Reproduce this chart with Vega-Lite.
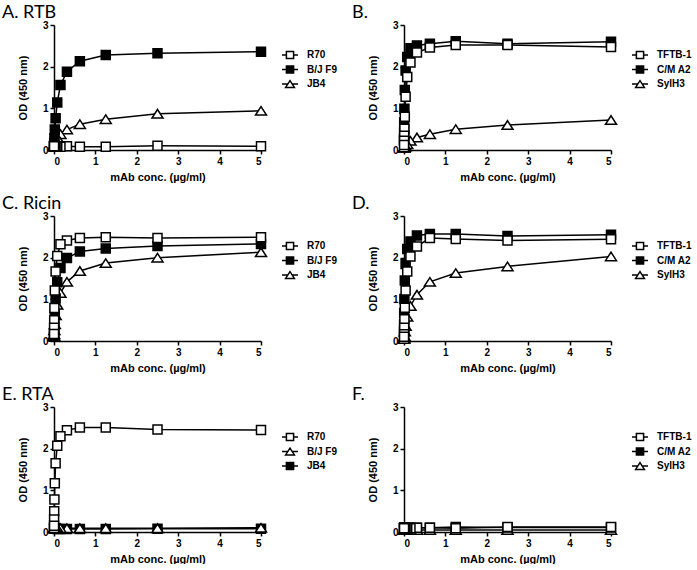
{
  "$schema": "https://vega.github.io/schema/vega-lite/v6.json",
  "padding": {"left": 2, "top": 4, "right": 0, "bottom": 0},
  "background": "white",
  "datasets": {
    "A": [
      {"series": "JB4", "conc": 5, "od": 0.94}, {"series": "JB4", "conc": 2.5, "od": 0.87}, {"series": "JB4", "conc": 1.25, "od": 0.74}, {"series": "JB4", "conc": 0.625, "od": 0.62}, {"series": "JB4", "conc": 0.3125, "od": 0.49}, {"series": "JB4", "conc": 0.156, "od": 0.38}, {"series": "JB4", "conc": 0.078, "od": 0.30}, {"series": "JB4", "conc": 0.039, "od": 0.22}, {"series": "JB4", "conc": 0.0195, "od": 0.16}, {"series": "JB4", "conc": 0.0098, "od": 0.12}, {"series": "JB4", "conc": 0.0049, "od": 0.10}, {"series": "JB4", "conc": 0.0024, "od": 0.09}, {"series": "JB4", "conc": 0.0012, "od": 0.08},
      {"series": "B/J F9", "conc": 5, "od": 2.36}, {"series": "B/J F9", "conc": 2.5, "od": 2.32}, {"series": "B/J F9", "conc": 1.25, "od": 2.28}, {"series": "B/J F9", "conc": 0.625, "od": 2.13}, {"series": "B/J F9", "conc": 0.3125, "od": 1.88}, {"series": "B/J F9", "conc": 0.156, "od": 1.56}, {"series": "B/J F9", "conc": 0.078, "od": 1.14}, {"series": "B/J F9", "conc": 0.039, "od": 0.76}, {"series": "B/J F9", "conc": 0.0195, "od": 0.49}, {"series": "B/J F9", "conc": 0.0098, "od": 0.28}, {"series": "B/J F9", "conc": 0.0049, "od": 0.17}, {"series": "B/J F9", "conc": 0.0024, "od": 0.11}, {"series": "B/J F9", "conc": 0.0012, "od": 0.09},
      {"series": "R70", "conc": 5, "od": 0.09}, {"series": "R70", "conc": 2.5, "od": 0.10}, {"series": "R70", "conc": 1.25, "od": 0.08}, {"series": "R70", "conc": 0.625, "od": 0.08}, {"series": "R70", "conc": 0.3125, "od": 0.09}, {"series": "R70", "conc": 0.156, "od": 0.08}, {"series": "R70", "conc": 0.078, "od": 0.09}, {"series": "R70", "conc": 0.039, "od": 0.09}, {"series": "R70", "conc": 0.0195, "od": 0.10}, {"series": "R70", "conc": 0.0098, "od": 0.10}, {"series": "R70", "conc": 0.0049, "od": 0.09}, {"series": "R70", "conc": 0.0024, "od": 0.09}, {"series": "R70", "conc": 0.0012, "od": 0.09}
    ],
    "B": [
      {"series": "SylH3", "conc": 5, "od": 0.72}, {"series": "SylH3", "conc": 2.5, "od": 0.60}, {"series": "SylH3", "conc": 1.25, "od": 0.50}, {"series": "SylH3", "conc": 0.625, "od": 0.38}, {"series": "SylH3", "conc": 0.3125, "od": 0.30}, {"series": "SylH3", "conc": 0.156, "od": 0.22}, {"series": "SylH3", "conc": 0.078, "od": 0.14}, {"series": "SylH3", "conc": 0.039, "od": 0.09}, {"series": "SylH3", "conc": 0.0195, "od": 0.07}, {"series": "SylH3", "conc": 0.0098, "od": 0.06}, {"series": "SylH3", "conc": 0.0049, "od": 0.06}, {"series": "SylH3", "conc": 0.0024, "od": 0.06}, {"series": "SylH3", "conc": 0.0012, "od": 0.06},
      {"series": "C/M A2", "conc": 5, "od": 2.60}, {"series": "C/M A2", "conc": 2.5, "od": 2.55}, {"series": "C/M A2", "conc": 1.25, "od": 2.61}, {"series": "C/M A2", "conc": 0.625, "od": 2.55}, {"series": "C/M A2", "conc": 0.3125, "od": 2.51}, {"series": "C/M A2", "conc": 0.156, "od": 2.44}, {"series": "C/M A2", "conc": 0.078, "od": 2.23}, {"series": "C/M A2", "conc": 0.039, "od": 1.91}, {"series": "C/M A2", "conc": 0.0195, "od": 1.44}, {"series": "C/M A2", "conc": 0.0098, "od": 0.99}, {"series": "C/M A2", "conc": 0.0049, "od": 0.66}, {"series": "C/M A2", "conc": 0.0024, "od": 0.42}, {"series": "C/M A2", "conc": 0.0012, "od": 0.25},
      {"series": "TFTB-1", "conc": 5, "od": 2.47}, {"series": "TFTB-1", "conc": 2.5, "od": 2.52}, {"series": "TFTB-1", "conc": 1.25, "od": 2.52}, {"series": "TFTB-1", "conc": 0.625, "od": 2.46}, {"series": "TFTB-1", "conc": 0.3125, "od": 2.34}, {"series": "TFTB-1", "conc": 0.156, "od": 2.10}, {"series": "TFTB-1", "conc": 0.078, "od": 1.75}, {"series": "TFTB-1", "conc": 0.039, "od": 1.28}, {"series": "TFTB-1", "conc": 0.0195, "od": 0.80}, {"series": "TFTB-1", "conc": 0.0098, "od": 0.51}, {"series": "TFTB-1", "conc": 0.0049, "od": 0.34}, {"series": "TFTB-1", "conc": 0.0024, "od": 0.22}, {"series": "TFTB-1", "conc": 0.0012, "od": 0.12}
    ],
    "C": [
      {"series": "JB4", "conc": 5, "od": 2.13}, {"series": "JB4", "conc": 2.5, "od": 2.00}, {"series": "JB4", "conc": 1.25, "od": 1.87}, {"series": "JB4", "conc": 0.625, "od": 1.68}, {"series": "JB4", "conc": 0.3125, "od": 1.42}, {"series": "JB4", "conc": 0.156, "od": 1.15}, {"series": "JB4", "conc": 0.078, "od": 0.87}, {"series": "JB4", "conc": 0.039, "od": 0.62}, {"series": "JB4", "conc": 0.0195, "od": 0.40}, {"series": "JB4", "conc": 0.0098, "od": 0.26}, {"series": "JB4", "conc": 0.0049, "od": 0.16}, {"series": "JB4", "conc": 0.0024, "od": 0.12}, {"series": "JB4", "conc": 0.0012, "od": 0.10},
      {"series": "B/J F9", "conc": 5, "od": 2.33}, {"series": "B/J F9", "conc": 2.5, "od": 2.28}, {"series": "B/J F9", "conc": 1.25, "od": 2.22}, {"series": "B/J F9", "conc": 0.625, "od": 2.15}, {"series": "B/J F9", "conc": 0.3125, "od": 1.99}, {"series": "B/J F9", "conc": 0.156, "od": 1.75}, {"series": "B/J F9", "conc": 0.078, "od": 1.41}, {"series": "B/J F9", "conc": 0.039, "od": 1.02}, {"series": "B/J F9", "conc": 0.0195, "od": 0.64}, {"series": "B/J F9", "conc": 0.0098, "od": 0.40}, {"series": "B/J F9", "conc": 0.0049, "od": 0.24}, {"series": "B/J F9", "conc": 0.0024, "od": 0.14}, {"series": "B/J F9", "conc": 0.0012, "od": 0.10},
      {"series": "R70", "conc": 5, "od": 2.49}, {"series": "R70", "conc": 2.5, "od": 2.47}, {"series": "R70", "conc": 1.25, "od": 2.49}, {"series": "R70", "conc": 0.625, "od": 2.47}, {"series": "R70", "conc": 0.3125, "od": 2.41}, {"series": "R70", "conc": 0.156, "od": 2.32}, {"series": "R70", "conc": 0.078, "od": 2.04}, {"series": "R70", "conc": 0.039, "od": 1.67}, {"series": "R70", "conc": 0.0195, "od": 1.21}, {"series": "R70", "conc": 0.0098, "od": 0.79}, {"series": "R70", "conc": 0.0049, "od": 0.50}, {"series": "R70", "conc": 0.0024, "od": 0.32}, {"series": "R70", "conc": 0.0012, "od": 0.17}
    ],
    "D": [
      {"series": "SylH3", "conc": 5, "od": 2.03}, {"series": "SylH3", "conc": 2.5, "od": 1.79}, {"series": "SylH3", "conc": 1.25, "od": 1.63}, {"series": "SylH3", "conc": 0.625, "od": 1.42}, {"series": "SylH3", "conc": 0.3125, "od": 1.11}, {"series": "SylH3", "conc": 0.156, "od": 0.84}, {"series": "SylH3", "conc": 0.078, "od": 0.58}, {"series": "SylH3", "conc": 0.039, "od": 0.36}, {"series": "SylH3", "conc": 0.0195, "od": 0.23}, {"series": "SylH3", "conc": 0.0098, "od": 0.12}, {"series": "SylH3", "conc": 0.0049, "od": 0.08}, {"series": "SylH3", "conc": 0.0024, "od": 0.06}, {"series": "SylH3", "conc": 0.0012, "od": 0.05},
      {"series": "C/M A2", "conc": 5, "od": 2.55}, {"series": "C/M A2", "conc": 2.5, "od": 2.52}, {"series": "C/M A2", "conc": 1.25, "od": 2.57}, {"series": "C/M A2", "conc": 0.625, "od": 2.57}, {"series": "C/M A2", "conc": 0.3125, "od": 2.53}, {"series": "C/M A2", "conc": 0.156, "od": 2.39}, {"series": "C/M A2", "conc": 0.078, "od": 2.21}, {"series": "C/M A2", "conc": 0.039, "od": 1.85}, {"series": "C/M A2", "conc": 0.0195, "od": 1.45}, {"series": "C/M A2", "conc": 0.0098, "od": 1.01}, {"series": "C/M A2", "conc": 0.0049, "od": 0.67}, {"series": "C/M A2", "conc": 0.0024, "od": 0.40}, {"series": "C/M A2", "conc": 0.0012, "od": 0.22},
      {"series": "TFTB-1", "conc": 5, "od": 2.44}, {"series": "TFTB-1", "conc": 2.5, "od": 2.41}, {"series": "TFTB-1", "conc": 1.25, "od": 2.45}, {"series": "TFTB-1", "conc": 0.625, "od": 2.47}, {"series": "TFTB-1", "conc": 0.3125, "od": 2.27}, {"series": "TFTB-1", "conc": 0.156, "od": 2.03}, {"series": "TFTB-1", "conc": 0.078, "od": 1.67}, {"series": "TFTB-1", "conc": 0.039, "od": 1.21}, {"series": "TFTB-1", "conc": 0.0195, "od": 0.80}, {"series": "TFTB-1", "conc": 0.0098, "od": 0.52}, {"series": "TFTB-1", "conc": 0.0049, "od": 0.32}, {"series": "TFTB-1", "conc": 0.0024, "od": 0.16}, {"series": "TFTB-1", "conc": 0.0012, "od": 0.10}
    ],
    "E": [
      {"series": "JB4", "conc": 5, "od": 0.08}, {"series": "JB4", "conc": 2.5, "od": 0.08}, {"series": "JB4", "conc": 1.25, "od": 0.07}, {"series": "JB4", "conc": 0.625, "od": 0.07}, {"series": "JB4", "conc": 0.3125, "od": 0.07}, {"series": "JB4", "conc": 0.156, "od": 0.07}, {"series": "JB4", "conc": 0.078, "od": 0.07}, {"series": "JB4", "conc": 0.039, "od": 0.08}, {"series": "JB4", "conc": 0.0195, "od": 0.08}, {"series": "JB4", "conc": 0.0098, "od": 0.08}, {"series": "JB4", "conc": 0.0049, "od": 0.08}, {"series": "JB4", "conc": 0.0024, "od": 0.08}, {"series": "JB4", "conc": 0.0012, "od": 0.08},
      {"series": "B/J F9", "conc": 5, "od": 0.10}, {"series": "B/J F9", "conc": 2.5, "od": 0.09}, {"series": "B/J F9", "conc": 1.25, "od": 0.09}, {"series": "B/J F9", "conc": 0.625, "od": 0.09}, {"series": "B/J F9", "conc": 0.3125, "od": 0.09}, {"series": "B/J F9", "conc": 0.156, "od": 0.09}, {"series": "B/J F9", "conc": 0.078, "od": 0.10}, {"series": "B/J F9", "conc": 0.039, "od": 0.10}, {"series": "B/J F9", "conc": 0.0195, "od": 0.10}, {"series": "B/J F9", "conc": 0.0098, "od": 0.10}, {"series": "B/J F9", "conc": 0.0049, "od": 0.09}, {"series": "B/J F9", "conc": 0.0024, "od": 0.09}, {"series": "B/J F9", "conc": 0.0012, "od": 0.09},
      {"series": "R70", "conc": 5, "od": 2.45}, {"series": "R70", "conc": 2.5, "od": 2.46}, {"series": "R70", "conc": 1.25, "od": 2.51}, {"series": "R70", "conc": 0.625, "od": 2.51}, {"series": "R70", "conc": 0.3125, "od": 2.44}, {"series": "R70", "conc": 0.156, "od": 2.30}, {"series": "R70", "conc": 0.078, "od": 2.07}, {"series": "R70", "conc": 0.039, "od": 1.65}, {"series": "R70", "conc": 0.0195, "od": 1.17}, {"series": "R70", "conc": 0.0098, "od": 0.78}, {"series": "R70", "conc": 0.0049, "od": 0.50}, {"series": "R70", "conc": 0.0024, "od": 0.30}, {"series": "R70", "conc": 0.0012, "od": 0.15}
    ],
    "F": [
      {"series": "SylH3", "conc": 5, "od": 0.05}, {"series": "SylH3", "conc": 2.5, "od": 0.05}, {"series": "SylH3", "conc": 1.25, "od": 0.05}, {"series": "SylH3", "conc": 0.625, "od": 0.05}, {"series": "SylH3", "conc": 0.3125, "od": 0.05}, {"series": "SylH3", "conc": 0.156, "od": 0.05}, {"series": "SylH3", "conc": 0.078, "od": 0.05}, {"series": "SylH3", "conc": 0.039, "od": 0.05}, {"series": "SylH3", "conc": 0.0195, "od": 0.05}, {"series": "SylH3", "conc": 0.0098, "od": 0.05}, {"series": "SylH3", "conc": 0.0049, "od": 0.05}, {"series": "SylH3", "conc": 0.0024, "od": 0.05}, {"series": "SylH3", "conc": 0.0012, "od": 0.05},
      {"series": "C/M A2", "conc": 5, "od": 0.11}, {"series": "C/M A2", "conc": 2.5, "od": 0.11}, {"series": "C/M A2", "conc": 1.25, "od": 0.12}, {"series": "C/M A2", "conc": 0.625, "od": 0.10}, {"series": "C/M A2", "conc": 0.3125, "od": 0.10}, {"series": "C/M A2", "conc": 0.156, "od": 0.10}, {"series": "C/M A2", "conc": 0.078, "od": 0.10}, {"series": "C/M A2", "conc": 0.039, "od": 0.10}, {"series": "C/M A2", "conc": 0.0195, "od": 0.10}, {"series": "C/M A2", "conc": 0.0098, "od": 0.10}, {"series": "C/M A2", "conc": 0.0049, "od": 0.10}, {"series": "C/M A2", "conc": 0.0024, "od": 0.10}, {"series": "C/M A2", "conc": 0.0012, "od": 0.10},
      {"series": "TFTB-1", "conc": 5, "od": 0.12}, {"series": "TFTB-1", "conc": 2.5, "od": 0.12}, {"series": "TFTB-1", "conc": 1.25, "od": 0.09}, {"series": "TFTB-1", "conc": 0.625, "od": 0.10}, {"series": "TFTB-1", "conc": 0.3125, "od": 0.10}, {"series": "TFTB-1", "conc": 0.156, "od": 0.09}, {"series": "TFTB-1", "conc": 0.078, "od": 0.10}, {"series": "TFTB-1", "conc": 0.039, "od": 0.09}, {"series": "TFTB-1", "conc": 0.0195, "od": 0.09}, {"series": "TFTB-1", "conc": 0.0098, "od": 0.09}, {"series": "TFTB-1", "conc": 0.0049, "od": 0.09}, {"series": "TFTB-1", "conc": 0.0024, "od": 0.09}, {"series": "TFTB-1", "conc": 0.0012, "od": 0.09}
    ]
  },
  "columns": 2,
  "spacing": {"row": 13, "column": 14},
  "concat": [
    {
      "title": "A. RTB",
      "width": 207, "height": 125,
      "data": {"name": "A"},
      "resolve": {"scale": {"shape": "independent", "fill": "independent", "stroke": "independent"}},
      "layer": [
        {"mark": {"type": "line", "color": "black", "strokeWidth": 1.5},
         "encoding": {"x": {"field": "conc", "type": "quantitative", "scale": {"domain": [0, 5]}, "axis": {"values": [0, 1, 2, 3, 4, 5], "title": "mAb conc. (µg/ml)"}},
                      "y": {"field": "od", "type": "quantitative", "scale": {"domain": [0, 3]}, "axis": {"values": [0, 1, 2, 3], "title": "OD (450 nm)"}},
                      "detail": {"field": "series"}}},
        {"mark": {"type": "point", "filled": true, "opacity": 1, "stroke": "black", "strokeWidth": 1.5, "size": 100},
         "encoding": {"x": {"field": "conc", "type": "quantitative"}, "y": {"field": "od", "type": "quantitative"},
                      "shape": {"field": "series", "scale": {"domain": ["R70", "B/J F9", "JB4"], "range": ["M-0.9,-0.9H0.9V0.9H-0.9Z", "M-0.9,-0.9H0.9V0.9H-0.9Z", "M0,-0.85L1.1,0.85H-1.1Z"]}, "legend": null},
                      "fill": {"field": "series", "scale": {"domain": ["R70", "B/J F9", "JB4"], "range": ["white", "black", "white"]}, "legend": null}}},
        {"transform": [{"filter": "datum.conc < 0"}],
         "mark": {"type": "point", "filled": false, "opacity": 1, "strokeWidth": 1.5, "size": 64},
         "encoding": {"x": {"field": "conc", "type": "quantitative"}, "y": {"field": "od", "type": "quantitative"},
                      "stroke": {"field": "series", "scale": {"domain": ["R70", "B/J F9", "JB4"], "range": ["black", "black", "black"]}, "legend": {"title": null, "orient": "none", "legendX": 231, "legendY": 25}},
                      "shape": {"field": "series", "scale": {"domain": ["R70", "B/J F9", "JB4"], "range": ["M-2,0H-0.9M0.9,0H2M-0.9,-0.9H0.9V0.9H-0.9Z", "M-2,0H-0.9M0.9,0H2M-0.9,-0.9H0.9V0.9H-0.9Z", "M-2,0H-0.55M0.55,0H2M0,-0.85L1.1,0.85H-1.1Z"]}, "legend": {"title": null, "orient": "none", "legendX": 231, "legendY": 25}},
                      "fill": {"field": "series", "scale": {"domain": ["R70", "B/J F9", "JB4"], "range": ["white", "black", "white"]}, "legend": {"title": null, "orient": "none", "legendX": 231, "legendY": 25}}}}
      ]
    },
    {
      "title": "B.",
      "width": 207, "height": 125,
      "data": {"name": "B"},
      "resolve": {"scale": {"shape": "independent", "fill": "independent", "stroke": "independent"}},
      "layer": [
        {"mark": {"type": "line", "color": "black", "strokeWidth": 1.5},
         "encoding": {"x": {"field": "conc", "type": "quantitative", "scale": {"domain": [0, 5]}, "axis": {"values": [0, 1, 2, 3, 4, 5], "title": "mAb conc. (µg/ml)"}},
                      "y": {"field": "od", "type": "quantitative", "scale": {"domain": [0, 3]}, "axis": {"values": [0, 1, 2, 3], "title": "OD (450 nm)"}},
                      "detail": {"field": "series"}}},
        {"mark": {"type": "point", "filled": true, "opacity": 1, "stroke": "black", "strokeWidth": 1.5, "size": 100},
         "encoding": {"x": {"field": "conc", "type": "quantitative"}, "y": {"field": "od", "type": "quantitative"},
                      "shape": {"field": "series", "scale": {"domain": ["TFTB-1", "C/M A2", "SylH3"], "range": ["M-0.9,-0.9H0.9V0.9H-0.9Z", "M-0.9,-0.9H0.9V0.9H-0.9Z", "M0,-0.85L1.1,0.85H-1.1Z"]}, "legend": null},
                      "fill": {"field": "series", "scale": {"domain": ["TFTB-1", "C/M A2", "SylH3"], "range": ["white", "black", "white"]}, "legend": null}}},
        {"transform": [{"filter": "datum.conc < 0"}],
         "mark": {"type": "point", "filled": false, "opacity": 1, "strokeWidth": 1.5, "size": 64},
         "encoding": {"x": {"field": "conc", "type": "quantitative"}, "y": {"field": "od", "type": "quantitative"},
                      "stroke": {"field": "series", "scale": {"domain": ["TFTB-1", "C/M A2", "SylH3"], "range": ["black", "black", "black"]}, "legend": {"title": null, "orient": "none", "legendX": 231, "legendY": 25}},
                      "shape": {"field": "series", "scale": {"domain": ["TFTB-1", "C/M A2", "SylH3"], "range": ["M-2,0H-0.9M0.9,0H2M-0.9,-0.9H0.9V0.9H-0.9Z", "M-2,0H-0.9M0.9,0H2M-0.9,-0.9H0.9V0.9H-0.9Z", "M-2,0H-0.55M0.55,0H2M0,-0.85L1.1,0.85H-1.1Z"]}, "legend": {"title": null, "orient": "none", "legendX": 231, "legendY": 25}},
                      "fill": {"field": "series", "scale": {"domain": ["TFTB-1", "C/M A2", "SylH3"], "range": ["white", "black", "white"]}, "legend": {"title": null, "orient": "none", "legendX": 231, "legendY": 25}}}}
      ]
    },
    {
      "title": "C. Ricin",
      "width": 207, "height": 125,
      "data": {"name": "C"},
      "resolve": {"scale": {"shape": "independent", "fill": "independent", "stroke": "independent"}},
      "layer": [
        {"mark": {"type": "line", "color": "black", "strokeWidth": 1.5},
         "encoding": {"x": {"field": "conc", "type": "quantitative", "scale": {"domain": [0, 5]}, "axis": {"values": [0, 1, 2, 3, 4, 5], "title": "mAb conc. (µg/ml)"}},
                      "y": {"field": "od", "type": "quantitative", "scale": {"domain": [0, 3]}, "axis": {"values": [0, 1, 2, 3], "title": "OD (450 nm)"}},
                      "detail": {"field": "series"}}},
        {"mark": {"type": "point", "filled": true, "opacity": 1, "stroke": "black", "strokeWidth": 1.5, "size": 100},
         "encoding": {"x": {"field": "conc", "type": "quantitative"}, "y": {"field": "od", "type": "quantitative"},
                      "shape": {"field": "series", "scale": {"domain": ["R70", "B/J F9", "JB4"], "range": ["M-0.9,-0.9H0.9V0.9H-0.9Z", "M-0.9,-0.9H0.9V0.9H-0.9Z", "M0,-0.85L1.1,0.85H-1.1Z"]}, "legend": null},
                      "fill": {"field": "series", "scale": {"domain": ["R70", "B/J F9", "JB4"], "range": ["white", "black", "white"]}, "legend": null}}},
        {"transform": [{"filter": "datum.conc < 0"}],
         "mark": {"type": "point", "filled": false, "opacity": 1, "strokeWidth": 1.5, "size": 64},
         "encoding": {"x": {"field": "conc", "type": "quantitative"}, "y": {"field": "od", "type": "quantitative"},
                      "stroke": {"field": "series", "scale": {"domain": ["R70", "B/J F9", "JB4"], "range": ["black", "black", "black"]}, "legend": {"title": null, "orient": "none", "legendX": 231, "legendY": 25}},
                      "shape": {"field": "series", "scale": {"domain": ["R70", "B/J F9", "JB4"], "range": ["M-2,0H-0.9M0.9,0H2M-0.9,-0.9H0.9V0.9H-0.9Z", "M-2,0H-0.9M0.9,0H2M-0.9,-0.9H0.9V0.9H-0.9Z", "M-2,0H-0.55M0.55,0H2M0,-0.85L1.1,0.85H-1.1Z"]}, "legend": {"title": null, "orient": "none", "legendX": 231, "legendY": 25}},
                      "fill": {"field": "series", "scale": {"domain": ["R70", "B/J F9", "JB4"], "range": ["white", "black", "white"]}, "legend": {"title": null, "orient": "none", "legendX": 231, "legendY": 25}}}}
      ]
    },
    {
      "title": "D.",
      "width": 207, "height": 125,
      "data": {"name": "D"},
      "resolve": {"scale": {"shape": "independent", "fill": "independent", "stroke": "independent"}},
      "layer": [
        {"mark": {"type": "line", "color": "black", "strokeWidth": 1.5},
         "encoding": {"x": {"field": "conc", "type": "quantitative", "scale": {"domain": [0, 5]}, "axis": {"values": [0, 1, 2, 3, 4, 5], "title": "mAb conc. (µg/ml)"}},
                      "y": {"field": "od", "type": "quantitative", "scale": {"domain": [0, 3]}, "axis": {"values": [0, 1, 2, 3], "title": "OD (450 nm)"}},
                      "detail": {"field": "series"}}},
        {"mark": {"type": "point", "filled": true, "opacity": 1, "stroke": "black", "strokeWidth": 1.5, "size": 100},
         "encoding": {"x": {"field": "conc", "type": "quantitative"}, "y": {"field": "od", "type": "quantitative"},
                      "shape": {"field": "series", "scale": {"domain": ["TFTB-1", "C/M A2", "SylH3"], "range": ["M-0.9,-0.9H0.9V0.9H-0.9Z", "M-0.9,-0.9H0.9V0.9H-0.9Z", "M0,-0.85L1.1,0.85H-1.1Z"]}, "legend": null},
                      "fill": {"field": "series", "scale": {"domain": ["TFTB-1", "C/M A2", "SylH3"], "range": ["white", "black", "white"]}, "legend": null}}},
        {"transform": [{"filter": "datum.conc < 0"}],
         "mark": {"type": "point", "filled": false, "opacity": 1, "strokeWidth": 1.5, "size": 64},
         "encoding": {"x": {"field": "conc", "type": "quantitative"}, "y": {"field": "od", "type": "quantitative"},
                      "stroke": {"field": "series", "scale": {"domain": ["TFTB-1", "C/M A2", "SylH3"], "range": ["black", "black", "black"]}, "legend": {"title": null, "orient": "none", "legendX": 231, "legendY": 25}},
                      "shape": {"field": "series", "scale": {"domain": ["TFTB-1", "C/M A2", "SylH3"], "range": ["M-2,0H-0.9M0.9,0H2M-0.9,-0.9H0.9V0.9H-0.9Z", "M-2,0H-0.9M0.9,0H2M-0.9,-0.9H0.9V0.9H-0.9Z", "M-2,0H-0.55M0.55,0H2M0,-0.85L1.1,0.85H-1.1Z"]}, "legend": {"title": null, "orient": "none", "legendX": 231, "legendY": 25}},
                      "fill": {"field": "series", "scale": {"domain": ["TFTB-1", "C/M A2", "SylH3"], "range": ["white", "black", "white"]}, "legend": {"title": null, "orient": "none", "legendX": 231, "legendY": 25}}}}
      ]
    },
    {
      "title": "E. RTA",
      "width": 207, "height": 125,
      "data": {"name": "E"},
      "resolve": {"scale": {"shape": "independent", "fill": "independent", "stroke": "independent"}},
      "layer": [
        {"mark": {"type": "line", "color": "black", "strokeWidth": 1.5},
         "encoding": {"x": {"field": "conc", "type": "quantitative", "scale": {"domain": [0, 5]}, "axis": {"values": [0, 1, 2, 3, 4, 5], "title": "mAb conc. (µg/ml)"}},
                      "y": {"field": "od", "type": "quantitative", "scale": {"domain": [0, 3]}, "axis": {"values": [0, 1, 2, 3], "title": "OD (450 nm)"}},
                      "detail": {"field": "series"}}},
        {"mark": {"type": "point", "filled": true, "opacity": 1, "stroke": "black", "strokeWidth": 1.5, "size": 100},
         "encoding": {"x": {"field": "conc", "type": "quantitative"}, "y": {"field": "od", "type": "quantitative"},
                      "shape": {"field": "series", "scale": {"domain": ["R70", "B/J F9", "JB4"], "range": ["M-0.9,-0.9H0.9V0.9H-0.9Z", "M0,-0.85L1.1,0.85H-1.1Z", "M-0.9,-0.9H0.9V0.9H-0.9Z"]}, "legend": null},
                      "fill": {"field": "series", "scale": {"domain": ["R70", "B/J F9", "JB4"], "range": ["white", "white", "black"]}, "legend": null}}},
        {"transform": [{"filter": "datum.conc < 0"}],
         "mark": {"type": "point", "filled": false, "opacity": 1, "strokeWidth": 1.5, "size": 64},
         "encoding": {"x": {"field": "conc", "type": "quantitative"}, "y": {"field": "od", "type": "quantitative"},
                      "stroke": {"field": "series", "scale": {"domain": ["R70", "B/J F9", "JB4"], "range": ["black", "black", "black"]}, "legend": {"title": null, "orient": "none", "legendX": 231, "legendY": 25}},
                      "shape": {"field": "series", "scale": {"domain": ["R70", "B/J F9", "JB4"], "range": ["M-2,0H-0.9M0.9,0H2M-0.9,-0.9H0.9V0.9H-0.9Z", "M-2,0H-0.55M0.55,0H2M0,-0.85L1.1,0.85H-1.1Z", "M-2,0H-0.9M0.9,0H2M-0.9,-0.9H0.9V0.9H-0.9Z"]}, "legend": {"title": null, "orient": "none", "legendX": 231, "legendY": 25}},
                      "fill": {"field": "series", "scale": {"domain": ["R70", "B/J F9", "JB4"], "range": ["white", "white", "black"]}, "legend": {"title": null, "orient": "none", "legendX": 231, "legendY": 25}}}}
      ]
    },
    {
      "title": "F.",
      "width": 207, "height": 125,
      "data": {"name": "F"},
      "resolve": {"scale": {"shape": "independent", "fill": "independent", "stroke": "independent"}},
      "layer": [
        {"mark": {"type": "line", "color": "black", "strokeWidth": 1.5},
         "encoding": {"x": {"field": "conc", "type": "quantitative", "scale": {"domain": [0, 5]}, "axis": {"values": [0, 1, 2, 3, 4, 5], "title": "mAb conc. (µg/ml)"}},
                      "y": {"field": "od", "type": "quantitative", "scale": {"domain": [0, 3]}, "axis": {"values": [0, 1, 2, 3], "title": "OD (450 nm)"}},
                      "detail": {"field": "series"}}},
        {"mark": {"type": "point", "filled": true, "opacity": 1, "stroke": "black", "strokeWidth": 1.5, "size": 100},
         "encoding": {"x": {"field": "conc", "type": "quantitative"}, "y": {"field": "od", "type": "quantitative"},
                      "shape": {"field": "series", "scale": {"domain": ["TFTB-1", "C/M A2", "SylH3"], "range": ["M-0.9,-0.9H0.9V0.9H-0.9Z", "M-0.9,-0.9H0.9V0.9H-0.9Z", "M0,-0.85L1.1,0.85H-1.1Z"]}, "legend": null},
                      "fill": {"field": "series", "scale": {"domain": ["TFTB-1", "C/M A2", "SylH3"], "range": ["white", "black", "white"]}, "legend": null}}},
        {"transform": [{"filter": "datum.conc < 0"}],
         "mark": {"type": "point", "filled": false, "opacity": 1, "strokeWidth": 1.5, "size": 64},
         "encoding": {"x": {"field": "conc", "type": "quantitative"}, "y": {"field": "od", "type": "quantitative"},
                      "stroke": {"field": "series", "scale": {"domain": ["TFTB-1", "C/M A2", "SylH3"], "range": ["black", "black", "black"]}, "legend": {"title": null, "orient": "none", "legendX": 231, "legendY": 25}},
                      "shape": {"field": "series", "scale": {"domain": ["TFTB-1", "C/M A2", "SylH3"], "range": ["M-2,0H-0.9M0.9,0H2M-0.9,-0.9H0.9V0.9H-0.9Z", "M-2,0H-0.9M0.9,0H2M-0.9,-0.9H0.9V0.9H-0.9Z", "M-2,0H-0.55M0.55,0H2M0,-0.85L1.1,0.85H-1.1Z"]}, "legend": {"title": null, "orient": "none", "legendX": 231, "legendY": 25}},
                      "fill": {"field": "series", "scale": {"domain": ["TFTB-1", "C/M A2", "SylH3"], "range": ["white", "black", "white"]}, "legend": {"title": null, "orient": "none", "legendX": 231, "legendY": 25}}}}
      ]
    }
  ],
  "config": {
    "view": {"stroke": null},
    "axis": {"grid": false, "domainColor": "black", "domainWidth": 1.5, "tickColor": "black", "tickWidth": 1.5, "tickSize": 4, "labelFont": "Liberation Sans", "labelFontWeight": "bold", "labelFontSize": 10, "labelColor": "black", "labelPadding": 2, "titleFont": "Liberation Sans", "titleFontWeight": "bold", "titleFontSize": 11, "titleColor": "black"},
    "axisX": {"titlePadding": 5},
    "axisY": {"titlePadding": 14},
    "title": {"font": "Lato", "fontSize": 18, "fontWeight": "normal", "color": "black", "anchor": "start", "frame": "group", "dx": -52, "offset": -2},
    "legend": {"symbolSize": 64, "labelFont": "Liberation Sans", "labelFontWeight": "bold", "labelFontSize": 10, "labelColor": "black", "labelOffset": 12, "rowPadding": 0.5, "padding": 0, "symbolStrokeWidth": 1.5}
  }
}
